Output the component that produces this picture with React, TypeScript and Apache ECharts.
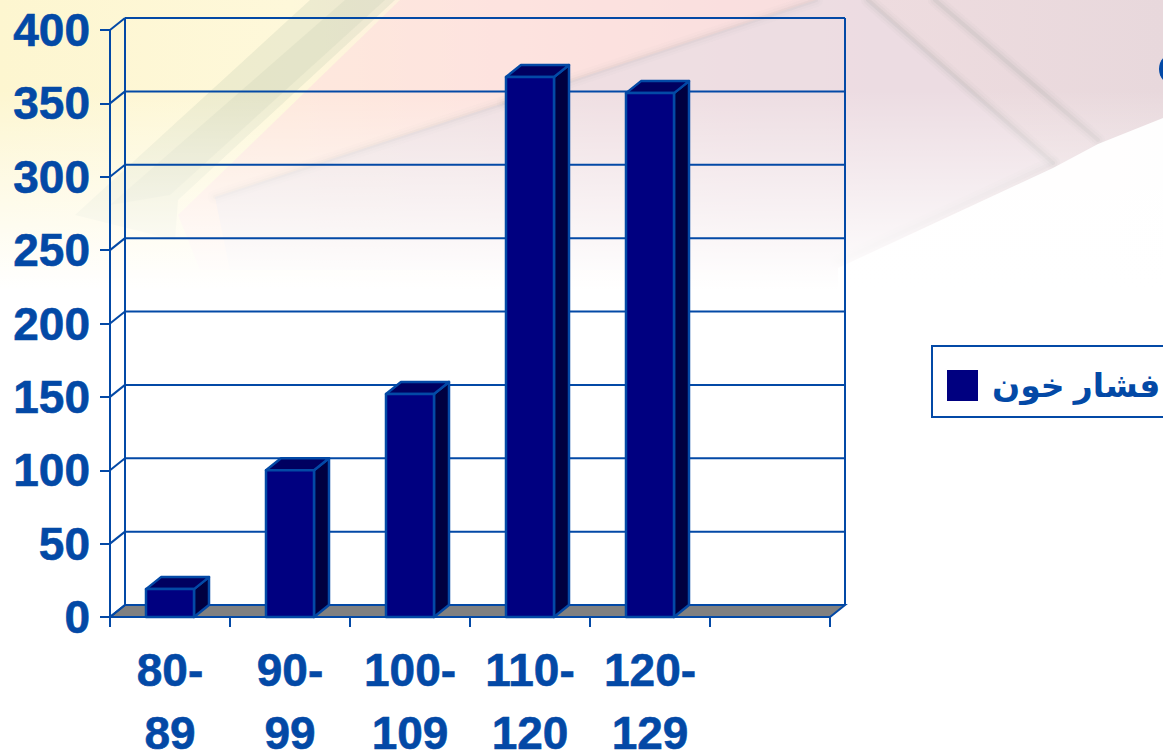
import React, { useEffect, useRef } from "react";
import * as echarts from "echarts";

const categories = ["80-\n89", "90-\n99", "100-\n109", "110-\n120", "120-\n129", ""];
const values = [19, 100, 152, 368, 357];
const yTicks = [0, 50, 100, 150, 200, 250, 300, 350, 400];
const seriesName = "فشار خون";

const BLUE = "#0349A6";
const DX = 15;
const DY = 12;

function renderWalls(params: any, api: any) {
  const cs = params.coordSys;
  const v = api.value(0);
  const y = api.coord([0, v])[1];
  const left = cs.x;
  const right = cs.x + cs.width;
  const children: any[] = [];
  const line = (x1: number, y1: number, x2: number, y2: number, w = 2) => ({
    type: "line",
    shape: { x1, y1, x2, y2 },
    style: { stroke: BLUE, lineWidth: w, fill: "none" },
  });
  if (v === 0) {
    children.push({
      type: "polygon",
      shape: { points: [[left, y], [right, y], [right + DX, y - DY], [left + DX, y - DY]] },
      style: { fill: "#808080", stroke: BLUE, lineWidth: 2 },
    });
    children.push(line(left + DX, y - DY, left + DX, cs.y - DY));
    children.push(line(right + DX, y - DY, right + DX, cs.y - DY));
    children.push(line(left, y, left, cs.y));
  }
  children.push(line(left, y, left + DX, y - DY));
  children.push(line(left + DX, y - DY, right + DX, y - DY));
  return { type: "group", children };
}

function renderBar(params: any, api: any) {
  const idx = api.value(0);
  const val = api.value(1);
  const [cx, top] = api.coord([idx, val]);
  const [, base] = api.coord([idx, 0]);
  const w = api.size([1, 0])[0] * 0.4;
  const l = cx - w / 2;
  const r = cx + w / 2;
  const stroke = { stroke: BLUE, lineWidth: 2.5, lineJoin: "round" };
  return {
    type: "group",
    children: [
      {
        type: "polygon",
        shape: { points: [[r, top], [r + DX, top - DY], [r + DX, base - DY], [r, base]] },
        style: { fill: "#000040", ...stroke },
      },
      {
        type: "polygon",
        shape: { points: [[l, top], [l + DX, top - DY], [r + DX, top - DY], [r, top]] },
        style: { fill: "#000060", ...stroke },
      },
      {
        type: "rect",
        shape: { x: l, y: top, width: w, height: base - top },
        style: { fill: "#000080", ...stroke },
      },
    ],
  };
}

const bgPoly = (points: number[][], fill: any) => ({
  type: "polygon",
  silent: true,
  z: 0,
  shape: { points },
  style: { fill },
});
const bgLine = (x1: number, y1: number, x2: number, y2: number, stroke: string, lineWidth: number) => ({
  type: "line",
  silent: true,
  z: 0,
  shape: { x1, y1, x2, y2 },
  style: { stroke, lineWidth, lineCap: "round" },
});
const soft = (x1: number, y1: number, x2: number, y2: number, a: number) => [
  bgLine(x1, y1, x2, y2, `rgba(170,170,170,${a * 0.4})`, 14),
  bgLine(x1, y1, x2, y2, `rgba(170,170,170,${a * 0.5})`, 9),
  bgLine(x1, y1, x2, y2, `rgba(170,170,170,${a})`, 4),
];

const background = [
  // paper sheet
  bgPoly([[400, 0], [868, 0], [1053, 163], [838, 270], [200, 270], [178, 215]], "rgba(253,222,222,0.6)"),
  bgPoly([[504, 103], [816, 0], [868, 0], [1053, 163], [838, 270], [230, 270], [215, 197]], "rgba(226,220,230,0.5)"),
  // grey-green band
  bgPoly([[310, 0], [395, 0], [178, 200], [175, 240], [75, 215]], "rgba(190,200,175,0.24)"),
  bgPoly([[345, 0], [385, 0], [170, 195], [110, 205]], "rgba(190,200,175,0.2)"),
  // edge and streaks
  ...soft(215, 197, 504, 103, 0.1),
  ...soft(504, 103, 816, 0, 0.1),
  ...soft(868, 0, 1053, 163, 0.16),
  ...soft(935, 0, 1098, 140, 0.16),
  ...soft(1053, 163, 838, 262, 0.08),
  // white below the sheet on the right
  bgPoly([[1053, 168], [1098, 144], [1163, 118], [1163, 300], [838, 300], [838, 268]], "rgba(255,255,255,0.96)"),
  // fade to white
  {
    type: "rect",
    silent: true,
    z: 0,
    shape: { x: 0, y: 90, width: 1163, height: 200 },
    style: {
      fill: {
        type: "linear",
        x: 0,
        y: 0,
        x2: 0,
        y2: 1,
        colorStops: [
          { offset: 0, color: "rgba(255,255,255,0)" },
          { offset: 1, color: "rgba(255,255,255,1)" },
        ],
      },
    },
  },
  { type: "rect", silent: true, z: 0, shape: { x: 0, y: 290, width: 1163, height: 460 }, style: { fill: "#ffffff" } },
];

export default function App() {
  const ref = useRef<HTMLDivElement>(null);
  useEffect(() => {
    const chart = echarts.init(ref.current!, undefined, { renderer: "svg" });
    chart.setOption({
      animation: false,
      backgroundColor: "transparent",
      textStyle: { fontFamily: "'Liberation Sans', Arial, sans-serif" },
      grid: { left: 110, right: 333, top: 30, bottom: 133, outerBoundsMode: "none", containLabel: false },
      legend: {
        left: 932,
        top: 346,
        orient: "horizontal",
        data: [{ name: seriesName, icon: "rect" }],
        itemWidth: 31,
        itemHeight: 31,
        itemGap: 0,
        padding: [23, 15, 15, 15],
        borderColor: BLUE,
        borderWidth: 2,
        selectedMode: false,
        textStyle: {
          color: BLUE,
          fontSize: 33,
          fontWeight: "bold",
          padding: [8, 0, 0, 9],
          fontFamily: "'Liberation Sans', 'DejaVu Sans', sans-serif",
        },
      },
      xAxis: {
        type: "category",
        data: categories,
        boundaryGap: true,
        axisLine: { lineStyle: { color: BLUE, width: 2 } },
        axisTick: { show: true, alignWithLabel: false, length: 10, lineStyle: { color: BLUE, width: 2 } },
        axisLabel: {
          color: BLUE,
          fontSize: 46,
          fontWeight: "bold",
          lineHeight: 63,
          margin: 21,
          interval: 0,
          textBorderColor: BLUE,
          textBorderWidth: 0.6,
        },
        splitLine: { show: false },
      },
      yAxis: {
        type: "value",
        min: 0,
        max: 400,
        interval: 50,
        axisLine: { show: true, lineStyle: { color: BLUE, width: 2 } },
        axisTick: { show: true, length: 10, lineStyle: { color: BLUE, width: 2 } },
        axisLabel: {
          color: BLUE,
          fontSize: 46,
          fontWeight: "bold",
          margin: 20,
          textBorderColor: BLUE,
          textBorderWidth: 0.6,
        },
        splitLine: { show: false },
      },
      graphic: [
        ...background,
        {
          type: "ellipse",
          silent: true,
          z: 1,
          shape: { cx: 1168, cy: 69, rx: 9, ry: 13 },
          style: { fill: BLUE },
        },
      ],
      series: [
        {
          type: "custom",
          name: "walls",
          renderItem: renderWalls,
          data: yTicks.map((v) => [v]),
          encode: { y: 0 },
          silent: true,
          z: 2,
        },
        {
          type: "custom",
          name: seriesName,
          renderItem: renderBar,
          data: values.map((v, i) => [i, v]),
          encode: { x: 0, y: 1 },
          itemStyle: { color: "#000080", borderColor: BLUE },
          silent: true,
          z: 3,
        },
      ],
    });
    return () => chart.dispose();
  }, []);
  return (
    <div
      style={{
        position: "absolute",
        left: 0,
        top: 0,
        width: 1163,
        height: 750,
        overflow: "hidden",
        background:
          "linear-gradient(to right, #fdf6d0 0, #fef8da 25%, #fdeae2 45%, #eedcdf 75%, #e8d8dc 100%)",
      }}
    >
      <div ref={ref} style={{ width: 1163, height: 750 }} />
    </div>
  );
}
